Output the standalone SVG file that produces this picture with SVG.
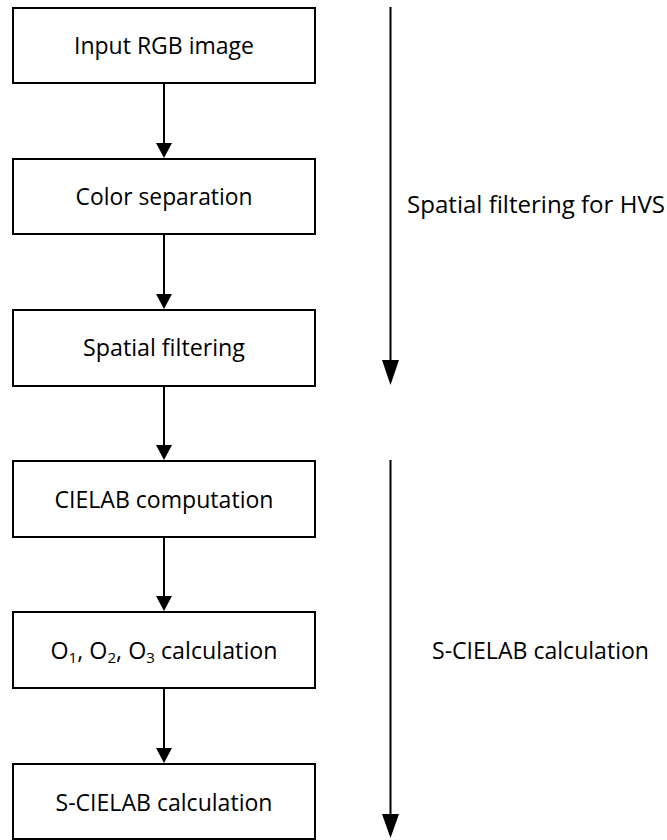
<svg xmlns="http://www.w3.org/2000/svg" width="667" height="840" viewBox="0 0 667 840">
<style>
.box{fill:#fff;stroke:#000;stroke-width:2}
.lbl{font-family:"Open Sans","Liberation Sans",sans-serif;font-size:23px;fill:#000;text-anchor:middle}
.side{font-family:"Open Sans","Liberation Sans",sans-serif;font-size:23px;fill:#000}
.ln{stroke:#000;stroke-width:2;fill:none}
.hd{fill:#000}
</style>
<rect width="667" height="840" fill="#fff"/>
<g id="node1"><rect class="box" x="13" y="8" width="302" height="75"/><text class="lbl" x="164" y="54" textLength="180" lengthAdjust="spacingAndGlyphs">Input RGB image</text></g>
<g id="node2"><rect class="box" x="13" y="159" width="302" height="75"/><text class="lbl" x="164" y="205" textLength="177" lengthAdjust="spacingAndGlyphs">Color separation</text></g>
<g id="node3"><rect class="box" x="13" y="310" width="302" height="76"/><text class="lbl" x="164" y="356" textLength="162" lengthAdjust="spacingAndGlyphs">Spatial filtering</text></g>
<g id="node4"><rect class="box" x="13" y="461" width="302" height="76"/><text class="lbl" x="164" y="508" textLength="219" lengthAdjust="spacingAndGlyphs">CIELAB computation</text></g>
<g id="node5"><rect class="box" x="13" y="612" width="302" height="76"/><text class="lbl" x="164" y="659" textLength="227" lengthAdjust="spacingAndGlyphs">O<tspan font-size="15" dy="4">1</tspan><tspan dy="-4">, O</tspan><tspan font-size="15" dy="4">2</tspan><tspan dy="-4">, O</tspan><tspan font-size="15" dy="4">3</tspan><tspan dy="-4"> calculation</tspan></text></g>
<g id="node6"><rect class="box" x="13" y="764" width="302" height="75"/><text class="lbl" x="164" y="811" textLength="217" lengthAdjust="spacingAndGlyphs">S-CIELAB calculation</text></g>
<g id="side1"><text class="side" x="407" y="213" textLength="258" lengthAdjust="spacingAndGlyphs">Spatial filtering for HVS</text></g>
<g id="side2"><text class="side" x="432" y="659" textLength="217" lengthAdjust="spacingAndGlyphs">S-CIELAB calculation</text></g>
<g id="connectors">
<line class="ln" x1="164" y1="83" x2="164" y2="145"/><polygon class="hd" points="156,143 172,143 164,158"/>
<line class="ln" x1="164" y1="234" x2="164" y2="296"/><polygon class="hd" points="156,294 172,294 164,309"/>
<line class="ln" x1="164" y1="386" x2="164" y2="447"/><polygon class="hd" points="156,445 172,445 164,460"/>
<line class="ln" x1="164" y1="537" x2="164" y2="598"/><polygon class="hd" points="156,596 172,596 164,611"/>
<line class="ln" x1="164" y1="688" x2="164" y2="750"/><polygon class="hd" points="156,748 172,748 164,763"/>
<line class="ln" x1="390.5" y1="7" x2="390.5" y2="362"/><polygon class="hd" points="382,360 399,360 390.5,385"/>
<line class="ln" x1="390.5" y1="460" x2="390.5" y2="816"/><polygon class="hd" points="382,814 399,814 390.5,838"/>
</g>
</svg>
